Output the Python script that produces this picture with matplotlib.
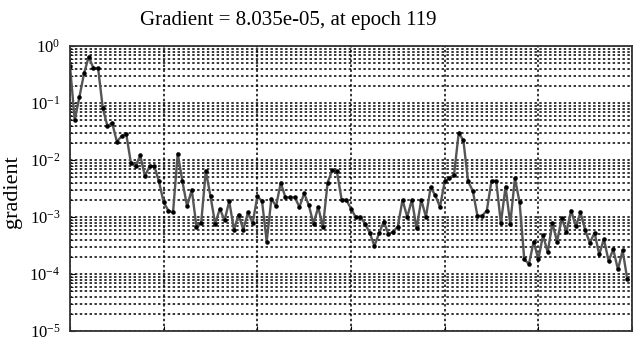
import numpy as np
import matplotlib
matplotlib.use("Agg")
import matplotlib.pyplot as plt
from matplotlib.ticker import LogLocator, NullFormatter

plt.rcParams['font.family'] = ['Liberation Serif', 'DejaVu Serif']
plt.rcParams['mathtext.fontset'] = 'custom'
plt.rcParams['mathtext.rm'] = 'Liberation Serif'

# gradient value, one per epoch 0..119
gradient = [
    0.45, 0.05, 0.126, 0.33, 0.65, 0.41, 0.41, 0.081, 0.039, 0.045,
    0.021, 0.026, 0.029, 0.0089, 0.0078, 0.012, 0.0052, 0.0078, 0.0078, 0.0042,
    0.0018, 0.0013, 0.0012, 0.013, 0.0042, 0.00155, 0.003, 0.00068, 0.00078, 0.0065,
    0.0023, 0.00076, 0.0014, 0.00087, 0.0019, 0.0006, 0.0011, 0.0006, 0.0012, 0.00078,
    0.0023, 0.0019, 0.00037, 0.0021, 0.00155, 0.004, 0.0022, 0.0022, 0.0022, 0.0015,
    0.0026, 0.0016, 0.00076, 0.0015, 0.00066, 0.004, 0.0066, 0.0063, 0.002, 0.002,
    0.0014, 0.001, 0.001, 0.00076, 0.00053, 0.00031, 0.00052, 0.00083, 0.0005, 0.00055,
    0.00068, 0.002, 0.001, 0.002, 0.00063, 0.002, 0.001, 0.0033, 0.0024, 0.0015,
    0.0042, 0.0048, 0.0055, 0.030, 0.022, 0.0042, 0.0029, 0.00105, 0.00105, 0.0013,
    0.0043, 0.0043, 0.00078, 0.0034, 0.00076, 0.0048, 0.0018, 0.00018, 0.00015, 0.00037,
    0.00018, 0.00048, 0.00024, 0.00078, 0.00037, 0.00095, 0.00055, 0.0013, 0.00069, 0.0012,
    0.00059, 0.00035, 0.00053, 0.00022, 0.00041, 0.00017, 0.00027, 0.00012, 0.00026, 8.035e-05,
]
epochs = np.arange(len(gradient))
x_ticks = [0, 20, 40, 60, 80, 100, 120]

fig = plt.figure(figsize=(6.33, 3.37), dpi=100)
ax = fig.add_axes([70 / 633, 6 / 337, 562 / 633, 285 / 337])

ax.semilogy(epochs, gradient, color='#555555', lw=1.7, marker='.',
            markersize=4.5, markerfacecolor='black', markeredgecolor='black')

ax.set_xlim(0, 119)
ax.set_ylim(1e-5, 1)
ax.set_xticks(x_ticks)
ax.set_xticklabels([])
ax.yaxis.set_major_locator(LogLocator(base=10, numticks=10))
ax.yaxis.set_minor_locator(LogLocator(base=10, subs=np.arange(2, 10), numticks=20))
ax.yaxis.set_minor_formatter(NullFormatter())
ax.tick_params(axis='both', which='both', direction='in', labelsize=12)
ax.tick_params(axis='y', which='major', pad=7)

grid_style = dict(color='black', linestyle=(0, (1.6, 1.6)), lw=1.1)
ax.grid(True, which='major', **grid_style)
ax.grid(True, which='minor', axis='y', **grid_style)
for s in ax.spines.values():
    s.set_linewidth(1.3)
    s.set_color('#333333')

ax.set_ylabel('gradient', fontsize=16)
ax.yaxis.set_label_coords(-0.085, 0.49)
fig.text(288 / 633, 1 - 20 / 337, 'Gradient = 8.035e-05, at epoch 119',
         ha='center', va='center', fontsize=15)

fig.savefig('out.png', dpi=100)
